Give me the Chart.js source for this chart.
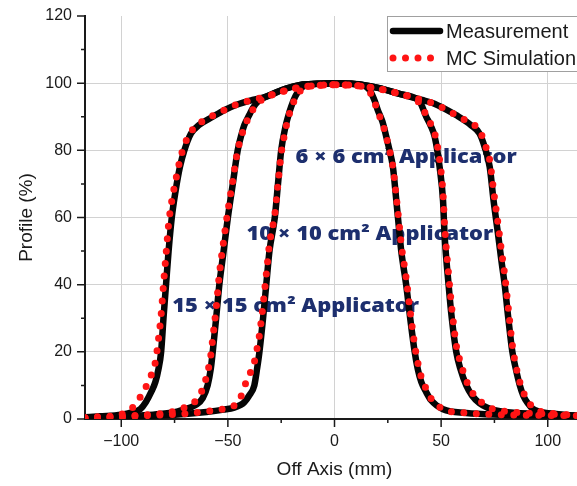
<!DOCTYPE html>
<html>
<head>
<meta charset="utf-8">
<title>Off-axis dose profiles</title>
<script src="https://cdn.jsdelivr.net/npm/chart.js@4.4.1/dist/chart.umd.min.js"></script>
<style>
  html, body { margin: 0; padding: 0; background: #fff; overflow: hidden; }
  #wrap { width: 577px; height: 486px; overflow: hidden; }
</style>
</head>
<body>
<div id="wrap"><canvas id="profileChart" width="600" height="486"></canvas></div>
<script>
// Off-axis position (mm) and relative profile (%) for each applicator
const offAxis6 = [-117, -100, -85, -70, -60, -52, -47, -44, -42.3, -40, -37.6, -36.3, -35.2, -33.5, -32, -30.5, -28, -26.5, -25, -23, -22, -20.3, -18, -14, -8, 0, 8, 13, 16.4, 19, 20.3, 22.5, 24.3, 25.8, 27.4, 29, 30.5, 31.3, 33.6, 35.5, 37.6, 39, 40.7, 43, 45.4, 50.9, 61.8, 77.5, 95, 113, 117];
const measured6 = [0.3, 0.6, 1.0, 1.5, 2.1, 2.8, 3.4, 4.2, 5, 7, 10, 15, 20, 30, 40, 50, 60, 70, 80, 87, 89.5, 93, 96.5, 99.2, 99.8, 100, 99.8, 99.5, 98, 94.5, 92, 88.5, 84, 80, 75, 65, 55, 50, 40, 30, 20, 15, 11, 8, 5.5, 2.9, 1.8, 1.3, 1.1, 1.0, 0.9];
const simulated6 = [0.3, 0.6, 1.1, 1.6, 2.3, 3.0, 4.0, 6.5, 9.6, 13, 17, 21, 25, 34, 43, 52, 61, 70, 79, 86, 89, 92.5, 96, 98.7, 99.3, 99.5, 99.4, 99, 97.5, 94, 91.5, 88, 84, 80, 75, 66, 57, 52, 42, 32, 22, 17, 12.5, 9, 6, 3.0, 1.8, 1.3, 1.1, 1.0, 0.9];

const offAxis10 = [-117, -100, -85, -75, -71.2, -65, -61.8, -59.5, -58, -57.1, -55.5, -54, -52, -50, -47.7, -45.4, -43.5, -42.3, -40, -38.4, -35.5, -32, -22.7, -16, -8, 0, 8, 14, 21, 30.5, 36, 40, 43, 45, 47, 49.3, 50.9, 51.6, 53.5, 55, 57.1, 59, 61.8, 64.5, 68, 72, 79, 96, 113, 117];
const measured10 = [0.3, 0.8, 1.3, 2.0, 2.7, 4.2, 6.2, 10, 15, 20, 30, 40, 50, 60, 70, 80, 85, 87.5, 90.5, 92.5, 94.8, 96, 98.4, 99.5, 99.8, 100, 99.8, 99.4, 98.5, 96.8, 96, 94.5, 90, 87.5, 84, 75, 65, 55, 40, 30, 20, 15, 10, 7, 4.7, 3.3, 2.2, 1.5, 1.0, 0.9];
const simulated10 = [0.3, 0.8, 1.4, 2.3, 3.2, 5.5, 9, 14, 19, 24, 33, 43, 53, 62, 71, 80, 84.5, 87, 90, 92, 94.3, 95.8, 97.8, 98.8, 99.3, 99.5, 99.4, 99, 98.3, 96.8, 95.8, 94, 90.5, 88, 85, 77, 67, 58, 43, 33, 22, 17, 11.5, 8, 5.5, 3.6, 2.4, 1.6, 1.1, 0.9];

const offAxis15 = [-117, -110, -100, -95, -91, -88.5, -86, -84, -82.5, -81.3, -80.2, -79, -77.8, -76.3, -74.5, -72.5, -70.4, -67.3, -63.4, -57.1, -51.6, -46.2, -38.4, -32, -22.7, -16, -8, 0, 8, 14, 21, 30.5, 41, 46, 52, 57, 64, 68, 70.4, 72.8, 74.6, 76.7, 78.3, 79.8, 81.5, 83.4, 85, 86.9, 88.5, 90.6, 93, 96, 104, 113, 117];
const measured15 = [0.5, 0.8, 1.3, 2.0, 3.0, 5, 8, 11, 15, 20, 30, 40, 50, 60, 68, 75, 80, 85, 87.6, 90, 92, 93.5, 95, 96, 98.4, 99.5, 99.8, 100, 99.8, 99.4, 98.5, 96.8, 95, 94.1, 92.3, 90.5, 87.5, 85, 81, 75, 65, 55, 47, 40, 30, 20, 15, 10, 7, 4.7, 3, 2.2, 1.5, 1.0, 0.9];
const simulated15 = [0.4, 0.7, 1.4, 3.2, 6.6, 9.5, 13, 17, 24, 31, 40, 49, 58, 65, 71, 77, 81.5, 85.5, 88, 90.3, 92, 93.6, 95, 96, 97.8, 98.8, 99.3, 99.5, 99.4, 99, 98.3, 96.8, 95, 94, 92.3, 90.5, 88, 86, 82, 77, 68, 58, 50, 43, 33, 22, 16, 11, 8, 5.5, 3.5, 2.4, 1.5, 1.0, 0.9];

// axis ticks: labelled (major) and unlabelled (minor)
const xMajorTicks = [-100, -50, 0, 50, 100];
const xMinorTicks = [-75, -25, 25, 75];
const yMajorTicks = [0, 20, 40, 60, 80, 100, 120];
const yMinorTicks = [10, 30, 50, 70, 90, 110];

// applicator captions, anchored at their left baseline in data units
const captionText = ['6 × 6 cm² Applicator', '10 × 10 cm² Applicator', '15 × 15 cm² Applicator'];
const captionX = [-18.3, -41.3, -76.1];
const captionY = [76.3, 53.4, 32.0];

const FONT = '"Liberation Sans", Arial, sans-serif';
const INK = '#1a1a1a';

function toPoints(xs, ys) {
    return xs.map((x, i) => ({ x: x, y: ys[i] }));
}

const measuredStyle = {
    label: 'Measurement',
    showLine: true,
    borderColor: '#050505',
    borderWidth: 6.5,
    pointRadius: 0,
    cubicInterpolationMode: 'monotone',
    order: 2
};

const simulatedStyle = {
    label: 'MC Simulation',
    showLine: true,
    borderColor: '#ff1414',
    borderWidth: 7,
    borderDash: [0, 12.5],
    borderCapStyle: 'round',
    pointRadius: 0,
    cubicInterpolationMode: 'monotone',
    order: 1
};

// Tick marks: long for labelled values, short for the minor ones, pointing outwards
const tickMarks = {
    id: 'tickMarks',
    afterDraw(chart) {
        const { ctx, chartArea, scales: { x, y } } = chart;
        ctx.save();
        ctx.strokeStyle = INK;
        ctx.lineWidth = 1.5;
        ctx.beginPath();
        x.ticks.forEach(t => {
            const px = x.getPixelForValue(t.value);
            const len = xMajorTicks.includes(t.value) ? 8 : 4;
            ctx.moveTo(px, chartArea.bottom);
            ctx.lineTo(px, chartArea.bottom + len);
        });
        y.ticks.forEach(t => {
            const py = y.getPixelForValue(t.value);
            const len = yMajorTicks.includes(t.value) ? 8 : 4;
            ctx.moveTo(chartArea.left, py);
            ctx.lineTo(chartArea.left - len, py);
        });
        ctx.stroke();
        ctx.restore();
    }
};

// Applicator captions sit under the curves
const captions = {
    id: 'captions',
    beforeDatasetsDraw(chart) {
        const { ctx, scales: { x, y } } = chart;
        ctx.save();
        ctx.fillStyle = '#1d2f6e';
        ctx.font = '800 19px "Open Sans", sans-serif';
        ctx.textBaseline = 'alphabetic';
        captionText.forEach((txt, i) => {
            ctx.save();
            ctx.translate(x.getPixelForValue(captionX[i]), y.getPixelForValue(captionY[i]));
            ctx.scale(1.15, 1);
            ctx.fillText(txt, 0, 0);
            ctx.restore();
        });
        ctx.restore();
    }
};

// Boxed legend in the top right corner, one row per series type
const boxLegend = {
    id: 'boxLegend',
    afterDraw(chart) {
        const { ctx } = chart;
        const seen = [];
        chart.data.datasets.forEach(ds => {
            if (!seen.find(s => s.label === ds.label)) seen.push(ds);
        });
        const left = 387, top = 16, rowH = 27;

        ctx.save();
        ctx.fillStyle = '#fff';
        ctx.fillRect(left, top, 230, 55);
        ctx.strokeStyle = '#a0a0a0';
        ctx.lineWidth = 1;
        ctx.strokeRect(left + 0.5, top + 0.5, 230, 55);

        seen.forEach((ds, i) => {
            const cy = top + 15 + i * rowH;
            ctx.beginPath();
            ctx.strokeStyle = ds.borderColor;
            ctx.lineWidth = ds.borderWidth;
            ctx.lineCap = ds.borderCapStyle || 'round';
            ctx.setLineDash(ds.borderDash || []);
            ctx.moveTo(393, cy);
            ctx.lineTo(440, cy);
            ctx.stroke();
            ctx.setLineDash([]);

            ctx.fillStyle = INK;
            ctx.font = '20px ' + FONT;
            ctx.textBaseline = 'middle';
            ctx.fillText(ds.label, 446, cy + 1);
        });
        ctx.restore();
    }
};

const ctx = document.getElementById('profileChart').getContext('2d');

new Chart(ctx, {
    type: 'scatter',
    data: {
        datasets: [
            { ...measuredStyle, data: toPoints(offAxis6, measured6) },
            { ...measuredStyle, data: toPoints(offAxis10, measured10) },
            { ...measuredStyle, data: toPoints(offAxis15, measured15) },
            { ...simulatedStyle, data: toPoints(offAxis6, simulated6) },
            { ...simulatedStyle, data: toPoints(offAxis10, simulated10) },
            { ...simulatedStyle, data: toPoints(offAxis15, simulated15) }
        ]
    },
    options: {
        responsive: false,
        animation: false,
        layout: { padding: { top: 16, right: 16, bottom: 0, left: 0 } },
        plugins: {
            legend: { display: false },
            tooltip: { enabled: false }
        },
        scales: {
            x: {
                type: 'linear',
                min: -117,
                max: 117,
                afterBuildTicks: s => {
                    s.ticks = xMajorTicks.concat(xMinorTicks).sort((a, b) => a - b).map(v => ({ value: v }));
                },
                afterFit: s => {
                    s.height = 67;
                    s.paddingLeft = 0;
                    s.paddingRight = 0;
                },
                border: { display: true, color: INK, width: 2 },
                grid: {
                    drawTicks: false,
                    lineWidth: 1,
                    color: c => xMajorTicks.includes(c.tick.value) ? '#d2d2d2' : 'rgba(0,0,0,0)'
                },
                ticks: {
                    autoSkip: false,
                    maxRotation: 0,
                    padding: 13,
                    color: INK,
                    font: { family: FONT, size: 16 },
                    callback: v => xMajorTicks.includes(v) ? (v < 0 ? '\u2212' + Math.abs(v) : String(v)) : ''
                },
                title: {
                    display: true,
                    text: 'Off Axis (mm)',
                    color: INK,
                    font: { family: FONT, size: 19 },
                    padding: { top: 0, bottom: 5 }
                }
            },
            y: {
                type: 'linear',
                min: 0,
                max: 120,
                afterBuildTicks: s => {
                    s.ticks = yMajorTicks.concat(yMinorTicks).sort((a, b) => a - b).map(v => ({ value: v }));
                },
                afterFit: s => {
                    s.width = 85;
                    s.paddingTop = 0;
                    s.paddingBottom = 0;
                },
                border: { display: true, color: INK, width: 2 },
                grid: {
                    drawTicks: false,
                    lineWidth: 1,
                    color: c => (yMajorTicks.includes(c.tick.value) && c.tick.value < 120) ? '#d2d2d2' : 'rgba(0,0,0,0)'
                },
                ticks: {
                    autoSkip: false,
                    padding: 13,
                    color: INK,
                    font: { family: FONT, size: 16 },
                    callback: v => yMajorTicks.includes(v) ? String(v) : ''
                },
                title: {
                    display: true,
                    text: 'Profile (%)',
                    color: INK,
                    font: { family: FONT, size: 19 },
                    padding: { top: 15, bottom: 0 }
                }
            }
        }
    },
    plugins: [captions, tickMarks, boxLegend]
});
</script>
</body>
</html>
